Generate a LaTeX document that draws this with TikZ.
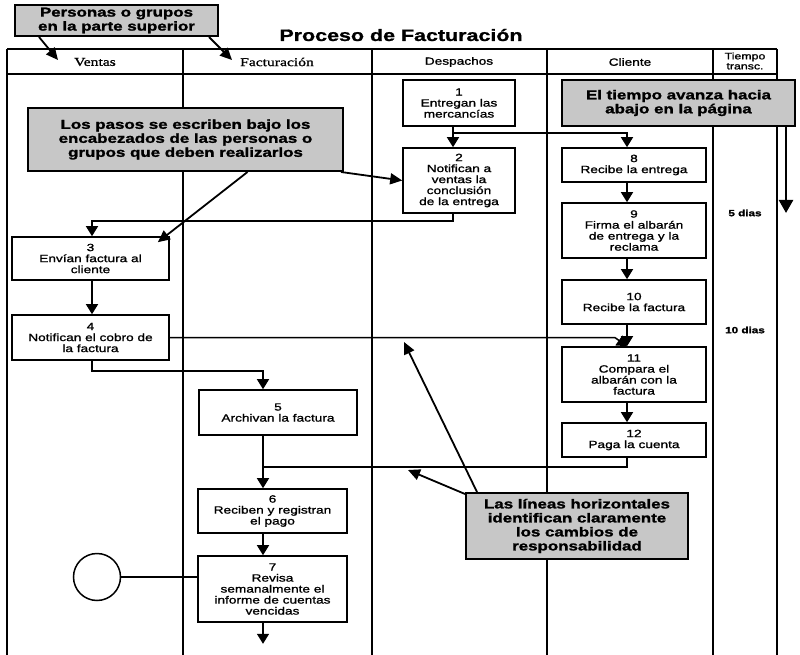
\documentclass[tikz,border=0pt]{standalone}
\usepackage{fontspec}
\setmainfont{Liberation Serif}
\newfontfamily\pasofont{Liberation Sans}[FakeStretch=1.3,FakeBold=1.2]
\newfontfamily\notafont{Liberation Sans}[FakeStretch=1.3,FakeBold=1.5]
\newfontfamily\headfont{Liberation Serif}[FakeStretch=1.3,FakeBold=1.2]
\usetikzlibrary{arrows.meta}
\tikzset{
  paso/.style={draw,line width=1.6pt,fill=white,align=center,inner sep=0pt,font=\pasofont\fontsize{10.5}{11}\selectfont},
  nota/.style={draw,line width=2pt,fill=black!22,align=center,inner sep=0pt,font=\notafont\bfseries\fontsize{13}{14}\selectfont},
  flecha/.style={-{Triangle[width=12pt,length=10pt]},line width=1.5pt},
  guia/.style={-{Triangle[width=11pt,length=12pt]},line width=1.8pt},
  carril/.style={line width=1.5pt},
}
\begin{document}
\begin{tikzpicture}[x=1pt,y=-1pt]
\useasboundingbox (0,0) rectangle (800,655);
%carriles
        \draw [carril] (7,49) -- (777,49);
        \draw [carril] (7,74) -- (777,74);
        \foreach \x in {7,183,372,547,713,777}
            \draw [carril] (\x,49) -- (\x,655);
        \node[font=\pasofont\bfseries\fontsize{16.5}{16.5}\selectfont] (titulo) at (401,35) {Proceso de Facturación};
        \node[font=\headfont\fontsize{12}{12}\selectfont] (hv) at (95,62) {Ventas};
        \node[font=\headfont\fontsize{12}{12}\selectfont] (hf) at (277,62) {Facturación};
        \node[font=\pasofont\fontsize{10.5}{11}\selectfont] (hd) at (459,62) {Despachos};
        \node[font=\pasofont\fontsize{10.5}{11}\selectfont] (hc) at (630,62) {Cliente};
        \node[font=\pasofont\fontsize{9.5}{10}\selectfont,align=center] (ht) at (745,61) {Tiempo\\transc.};
        \node[font=\pasofont\bfseries\fontsize{9}{10}\selectfont] (t5) at (745,213) {5 dias};
        \node[font=\pasofont\bfseries\fontsize{9}{10}\selectfont] (t10) at (745,330) {10 dias};

%pasos
        \node[paso,minimum width=112pt,minimum height=46pt] (p1) at (459,103) {1\\Entregan las\\mercancías};
        \node[paso,minimum width=112pt,minimum height=65pt] (p2) at (459,180.5) {2\\Notifican a\\ventas la\\conclusión\\de la entrega};
        \node[paso,minimum width=157pt,minimum height=43pt] (p3) at (90.5,258.5) {3\\Envían factura al\\cliente};
        \node[paso,minimum width=157pt,minimum height=45pt] (p4) at (90.5,337.5) {4\\Notifican el cobro de\\la factura};
        \node[paso,minimum width=158pt,minimum height=45pt] (p5) at (278,412.5) {5\\Archivan la factura};
        \node[paso,minimum width=149pt,minimum height=44pt] (p6) at (272.5,511) {6\\Reciben y registran\\el pago};
        \node[paso,minimum width=149pt,minimum height=66pt] (p7) at (272.5,589) {7\\Revisa\\semanalmente el\\informe de cuentas\\vencidas};
        \node[paso,minimum width=144pt,minimum height=34pt] (p8) at (634,165) {8\\Recibe la entrega};
        \node[paso,minimum width=144pt,minimum height=55pt] (p9) at (634,230.5) {9\\Firma el albarán\\de entrega y la\\reclama};
        \node[paso,minimum width=144pt,minimum height=44pt] (p10) at (634,302) {10\\Recibe la factura};
        \node[paso,minimum width=144pt,minimum height=55pt] (p11) at (634,374.5) {11\\Compara el\\albarán con la\\factura};
        \node[paso,minimum width=144pt,minimum height=34pt] (p12) at (634,440) {12\\Paga la cuenta};
        \node[circle,draw,line width=1.5pt,minimum size=47pt,inner sep=0pt] (c1) at (97,577) {};

        \coordinate (xV) at (92,0);
        \coordinate (xF) at (263,0);
        \coordinate (xD) at (453,0);
        \coordinate (xC) at (627,0);

%flujo
        \draw [flecha] (p1.south -| xD) -- (p2.north -| xD);
        \draw [flecha] (p1.south -| xD) -- ++(0,6) -| (p8.north -| xC);
        \draw [flecha] (p2.south -| xD) -- ++(0,7) -| (p3.north -| xV);
        \draw [flecha] (p3.south -| xV) -- (p4.north -| xV);
        \draw [flecha] (p4.east) -- ++(445,0) -- (p11.north -| xC);
        \draw [flecha] (p4.south -| xV) -- ++(0,10) -| (p5.north -| xF);
        \draw [flecha] (p5.south -| xF) -- (p6.north -| xF);
        \draw [flecha] (p6.south -| xF) -- (p7.north -| xF);
        \draw [flecha] (p7.south -| xF) -- ++(0,21);
        \draw [flecha] (p8.south -| xC) -- (p9.north -| xC);
        \draw [flecha] (p9.south -| xC) -- (p10.north -| xC);
        \draw [flecha] (p10.south -| xC) -- (p11.north -| xC);
        \draw [flecha] (p11.south -| xC) -- (p12.north -| xC);
        \draw [carril] (p12.south -| xC) -- ++(0,9) -- ++(-364,0);
        \draw [carril] (c1.east) -- (c1.east -| p7.west);

%notas
        \node[nota,minimum width=203pt,minimum height=31pt] (n1) at (116.5,20.5) {Personas o grupos\\en la parte superior};
        \node[nota,minimum width=315pt,minimum height=63pt] (n2) at (185.5,139.5) {Los pasos se escriben bajo los\\encabezados de las personas o\\grupos que deben realizarlos};
        \node[nota,minimum width=233pt,minimum height=46pt] (n3) at (678.5,103) {El tiempo avanza hacia\\abajo en la página};
        \node[nota,minimum width=222pt,minimum height=66pt] (n4) at (577,526) {Las líneas horizontales\\identifican claramente\\los cambios de\\responsabilidad};

        \coordinate (hv1) at (58,60);
        \coordinate (hf1) at (232,60);
        \coordinate (l1) at (408,470);
        \coordinate (l2) at (404,342);
        \coordinate (tfin) at (786,213);
        \draw [guia] ([xshift=25pt]n1.south west) -- (hv1);
        \draw [guia] ([xshift=-10pt]n1.south east) -- (hf1);
        \draw [guia] ([xshift=62pt]n2.south) -- ([xshift=-12pt,yshift=-6pt]p3.north east);
        \draw [guia] ([xshift=-3pt]n2.south east) -- (p2.west);
        \draw [guia] ([yshift=-2pt]n4.north west) -- (l1);
        \draw [guia] ([xshift=12pt]n4.north west) -- (l2);
        \draw [line width=2.5pt,-{Triangle[width=14pt,length=13pt]}] (n3.south -| tfin) -- (tfin);
    \end{tikzpicture}
\end{document}
